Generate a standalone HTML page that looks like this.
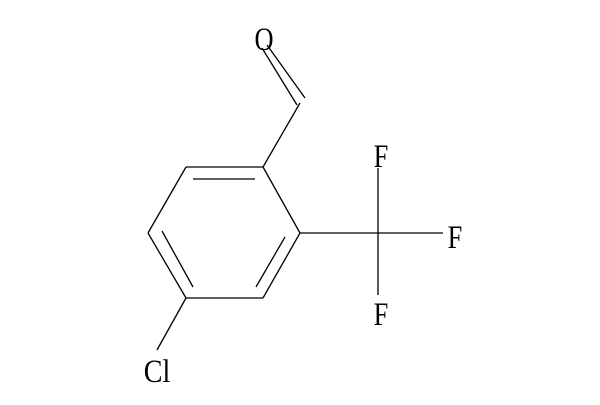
<!DOCTYPE html>
<html><head><meta charset="utf-8"><style>html,body{margin:0;padding:0;background:#fff;}</style></head>
<body>
<svg width="600" height="400" viewBox="0 0 600 400" xmlns="http://www.w3.org/2000/svg">
<g stroke="#000" stroke-width="1.3" fill="none">
<line x1="186" y1="167" x2="263" y2="167"/>
<line x1="263" y1="167" x2="300" y2="233"/>
<line x1="300" y1="233" x2="263" y2="298"/>
<line x1="263" y1="298" x2="186" y2="298"/>
<line x1="186" y1="298" x2="148" y2="233"/>
<line x1="148" y1="233" x2="186" y2="167"/>
<line x1="193" y1="179" x2="255" y2="179"/>
<line x1="162" y1="231" x2="193" y2="287"/>
<line x1="285" y1="237" x2="256" y2="287"/>
<line x1="263" y1="167" x2="300" y2="103"/>
<line x1="262" y1="48" x2="297" y2="105"/>
<line x1="267" y1="45" x2="305" y2="98"/>
<line x1="300" y1="233" x2="443" y2="233"/>
<line x1="378" y1="168" x2="378" y2="295"/>
<line x1="186" y1="298" x2="157" y2="350"/>
</g>
<g font-family="Liberation Serif, serif" font-size="33" fill="#000" text-anchor="middle">
<text x="264" y="50" transform="translate(264 0) scale(0.8 1) translate(-264 0)">O</text>
<text x="381" y="167" transform="translate(381 0) scale(0.8 1) translate(-381 0)">F</text>
<text x="455" y="248" transform="translate(455 0) scale(0.8 1) translate(-455 0)">F</text>
<text x="381" y="325" transform="translate(381 0) scale(0.8 1) translate(-381 0)">F</text>
<text x="157" y="382" transform="translate(157 0) scale(0.85 1) translate(-157 0)">Cl</text>
</g>
</svg>
</body></html>
